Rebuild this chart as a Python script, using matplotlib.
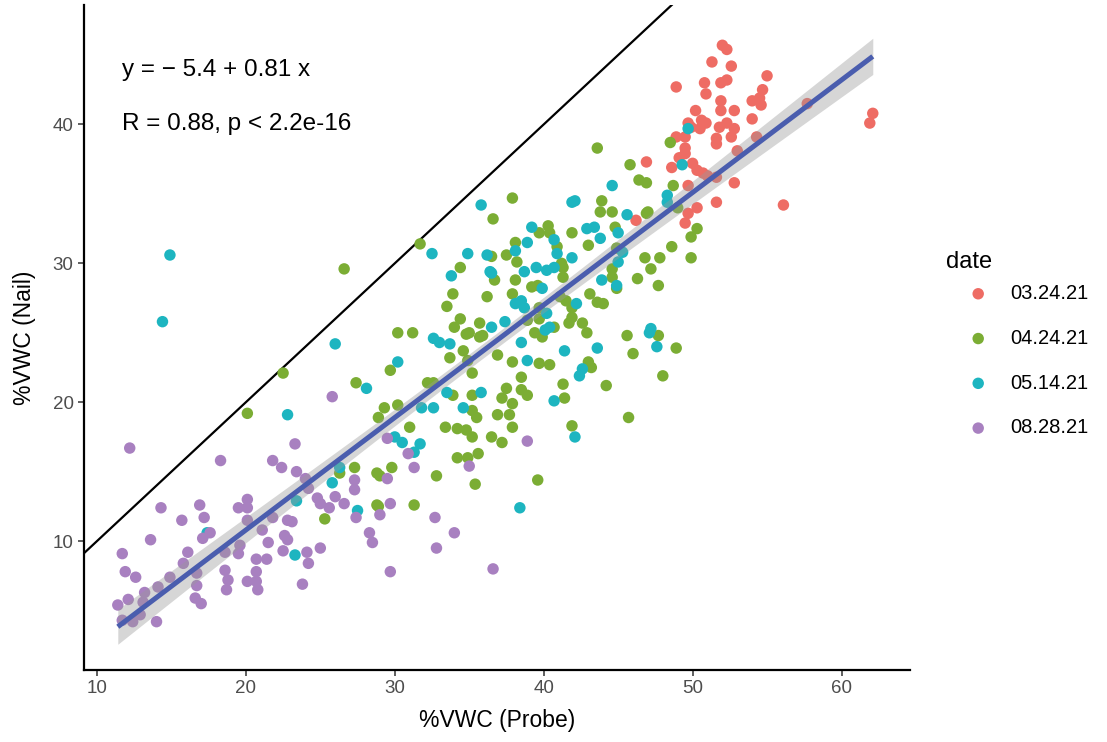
import numpy as np
import matplotlib
matplotlib.use("Agg")
import matplotlib.pyplot as plt

plt.rcParams['font.family'] = ['Liberation Sans', 'DejaVu Sans']

# ---- data: (probe %VWC, nail %VWC) per sampling date ----
dates = ["03.24.21", "04.24.21", "05.14.21", "08.28.21"]
colors = ["#EE6C64", "#7BAD34", "#1DB5C0", "#A880C0"]

probe_0324 = [52.0, 52.3, 51.3, 52.6, 55.0, 48.9, 50.8, 50.9, 51.9, 52.3, 54.7, 51.9, 51.9, 54.0,
              54.5, 54.6, 52.8, 50.2, 54.0, 49.7, 49.9, 50.6, 50.9, 50.5, 51.8, 52.3, 52.8, 52.6,
              51.6, 51.6, 54.3, 48.9, 49.5, 49.5, 49.5, 53.0, 49.1, 46.9, 48.6, 50.0, 50.3, 50.7,
              51.0, 51.6, 49.7, 52.8, 57.7, 62.1, 61.9, 51.6, 50.3, 49.7, 56.1, 46.2, 49.5]
nail_0324 = [45.7, 45.4, 44.5, 44.2, 43.5, 42.7, 43.0, 42.2, 43.0, 43.2, 42.5, 41.7, 41.0, 41.7,
             41.9, 41.4, 41.0, 41.0, 40.4, 40.1, 39.8, 40.3, 40.1, 39.7, 39.8, 40.1, 39.7, 39.1,
             39.0, 38.6, 39.1, 39.1, 39.1, 38.3, 37.9, 38.1, 37.6, 37.3, 36.9, 37.2, 36.7, 36.5,
             36.3, 36.2, 35.6, 35.8, 41.5, 40.8, 40.1, 34.4, 34.0, 33.6, 34.2, 33.1, 32.9]

probe_0424 = [26.6, 22.5, 20.1, 27.4, 37.9, 36.6, 31.7, 34.4, 36.5, 37.5, 38.1, 38.2, 36.7, 38.1,
              39.2, 33.9, 36.2, 33.5, 37.9, 34.4, 34.0, 30.2, 31.2, 35.0, 35.7, 40.3, 40.4, 39.7,
              40.9, 38.9, 39.7, 41.9, 41.3, 41.3, 39.6, 41.1, 41.5, 35.9, 39.7, 40.7, 41.7, 41.9,
              39.4, 39.9, 33.7, 34.6, 34.9, 35.2, 29.7, 32.2, 32.6, 33.9, 35.2, 29.3, 28.9, 30.2,
              31.0, 33.4, 34.2, 34.8, 35.2, 35.2, 35.5, 36.5, 37.2, 36.9, 37.7, 37.2, 37.9, 37.5,
              38.5, 38.9, 38.5, 37.9, 36.9, 37.9, 39.7, 40.4, 34.2, 34.9, 35.6, 29.8, 29.0, 32.8,
              35.4, 39.6, 27.3, 45.8, 46.4, 46.9, 43.9, 43.8, 44.6, 46.9, 48.7, 44.8, 43.0, 44.9,
              41.2, 46.8, 47.8, 48.6, 49.9, 49.9, 50.3, 47.2, 46.3, 47.7, 44.6, 44.6, 44.9, 43.1,
              43.6, 44.0, 41.9, 42.6, 42.9, 45.6, 47.7, 46.0, 48.9, 43.0, 43.2, 41.3, 44.2, 48.0,
              41.4, 45.7, 41.9, 48.5, 47.0, 49.0, 28.9, 31.3, 26.3, 25.3, 28.8, 28.8, 43.6, 34.8,
              35.7]
nail_0424 = [29.6, 22.1, 19.2, 21.4, 34.7, 33.2, 31.4, 29.7, 30.5, 30.6, 31.5, 30.1, 28.8, 28.8,
             28.3, 27.8, 27.6, 26.9, 27.8, 26.0, 25.4, 25.0, 25.0, 25.0, 25.7, 32.7, 32.2, 32.2,
             31.2, 25.9, 26.8, 32.2, 29.7, 29.0, 28.4, 27.6, 27.3, 24.8, 26.0, 25.4, 25.7, 26.8,
             25.0, 24.7, 23.2, 23.7, 23.0, 22.1, 22.3, 21.4, 21.4, 20.5, 20.5, 19.6, 18.9, 19.8,
             18.2, 18.2, 18.1, 18.0, 17.5, 19.4, 18.9, 17.5, 17.1, 19.1, 19.1, 20.3, 19.9, 21.0,
             20.9, 20.5, 21.8, 18.2, 23.4, 22.9, 22.8, 22.7, 16.0, 16.0, 16.3, 15.3, 14.7, 14.7,
             14.1, 14.4, 15.3, 37.1, 36.0, 35.8, 34.5, 33.7, 33.7, 33.6, 35.6, 32.6, 31.3, 31.1,
             30.0, 30.4, 30.4, 31.2, 30.4, 31.9, 32.5, 29.6, 28.9, 28.4, 29.6, 29.0, 28.2, 27.8,
             27.2, 27.1, 26.1, 25.7, 25.0, 24.8, 24.8, 23.5, 23.9, 22.9, 22.5, 21.3, 21.2, 21.9,
             20.3, 18.9, 18.3, 38.7, 33.7, 34.0, 12.5, 12.6, 14.9, 11.6, 14.9, 12.6, 38.3, 24.9,
             24.7]

probe_0514 = [14.9, 14.4, 26.0, 22.8, 23.3, 17.4, 23.4, 25.8, 26.3, 27.5, 38.4, 32.6, 33.0, 33.7,
              30.2, 28.1, 33.5, 35.8, 31.8, 32.6, 34.6, 30.0, 30.5, 31.7, 31.3, 38.5, 38.9, 40.7,
              35.8, 32.5, 34.9, 36.2, 33.8, 36.5, 39.2, 38.9, 38.1, 38.7, 39.5, 40.2, 40.7, 39.9,
              38.1, 38.5, 36.5, 37.4, 40.2, 40.4, 41.9, 40.7, 40.9, 41.9, 36.4, 38.7, 42.2, 44.6,
              42.1, 49.3, 48.3, 48.3, 45.6, 42.9, 43.4, 43.8, 45.0, 45.0, 45.3, 43.9, 44.9, 40.1,
              47.2, 41.4, 43.6, 42.6, 42.4, 47.6, 42.1, 47.1, 49.7]
nail_0514 = [30.6, 25.8, 24.2, 19.1, 9.0, 10.6, 12.9, 14.2, 15.3, 12.2, 12.4, 24.6, 24.3, 24.2,
             22.9, 21.0, 20.7, 20.7, 19.6, 19.6, 19.6, 17.5, 17.1, 17.0, 16.4, 24.3, 23.0, 20.1,
             34.2, 30.7, 30.7, 30.6, 29.1, 29.3, 32.6, 31.5, 30.9, 29.4, 29.7, 29.5, 29.7, 28.2,
             27.1, 27.3, 25.4, 25.8, 26.4, 25.4, 34.4, 31.7, 30.7, 30.4, 29.4, 26.8, 27.1, 35.6,
             34.5, 37.1, 34.9, 34.4, 33.5, 32.5, 32.6, 31.8, 32.2, 30.1, 30.8, 28.8, 28.4, 25.2,
             25.3, 23.7, 23.9, 22.4, 21.9, 24.0, 17.5, 25.0, 39.7]

probe_0828 = [12.2, 18.3, 23.3, 21.8, 22.4, 23.4, 24.0, 24.2, 14.3, 16.9, 17.2, 15.7, 19.5, 20.1,
              20.1, 17.6, 17.1, 13.6, 20.1, 21.8, 22.8, 23.1, 21.1, 22.6, 22.8, 21.5, 24.8, 25.0,
              25.6, 26.0, 26.6, 27.3, 27.3, 27.4, 11.7, 16.1, 15.8, 19.6, 19.5, 18.6, 20.7, 21.4,
              22.5, 24.1, 24.2, 25.0, 11.9, 12.6, 14.9, 14.1, 13.2, 13.1, 16.7, 16.7, 18.6, 18.8,
              18.7, 20.1, 20.7, 20.7, 20.8, 23.8, 16.6, 17.0, 12.4, 14.0, 11.7, 29.7, 29.0, 28.3,
              28.5, 32.7, 34.0, 32.8, 29.7, 36.6, 29.5, 30.9, 31.3, 35.0, 38.9, 29.5, 25.8, 12.1,
              12.9, 11.4]
nail_0828 = [16.7, 15.8, 17.0, 15.8, 15.3, 15.0, 14.5, 13.8, 12.4, 12.6, 11.7, 11.5, 12.4, 13.0,
             12.4, 10.6, 10.2, 10.1, 11.5, 11.7, 11.5, 11.4, 10.8, 10.4, 10.1, 9.9, 13.1, 12.7,
             12.4, 13.2, 12.7, 14.4, 13.7, 11.7, 9.1, 9.2, 8.4, 9.7, 9.1, 9.2, 8.7, 8.7,
             9.3, 9.2, 8.4, 9.5, 7.8, 7.4, 7.4, 6.7, 6.3, 5.6, 7.7, 6.8, 7.9, 7.2,
             6.5, 7.1, 7.8, 7.1, 6.5, 6.9, 5.9, 5.5, 4.2, 4.2, 4.3, 12.7, 11.9, 10.6,
             9.9, 11.7, 10.6, 9.5, 7.8, 8.0, 17.4, 16.3, 15.3, 15.4, 17.2, 14.5, 20.4, 5.8,
             4.7, 5.4]

# fitted model reported on the chart
intercept, slope = -5.4, 0.81
fit_label = "y = \u2212 5.4 + 0.81 x"
stat_label = "R = 0.88, p < 2.2e-16"

series = [(probe_0324, nail_0324), (probe_0424, nail_0424),
          (probe_0514, nail_0514), (probe_0828, nail_0828)]

fig = plt.figure(figsize=(11.07, 7.42), dpi=100)
ax = fig.add_axes([84 / 1107, 72 / 742, 826 / 1107, 665 / 742])

for (px, py), lab, col in zip(series, dates, colors):
    ax.scatter(px, py, s=68, color=col, edgecolors='none', label=lab, zorder=2)

# 1:1 reference line
ax.axline((0, 0), slope=1, color='black', lw=1.6, zorder=1)

# regression line with 95% confidence band
all_x = np.concatenate([np.asarray(s[0]) for s in series])
all_y = np.concatenate([np.asarray(s[1]) for s in series])
n = all_x.size
xbar = all_x.mean()
sxx = np.sum((all_x - xbar) ** 2)
resid = all_y - (intercept + slope * all_x)
s_res = np.sqrt(np.sum(resid ** 2) / (n - 2))
xs = np.linspace(all_x.min(), all_x.max(), 200)
ys = intercept + slope * xs
half = 1.966 * s_res * np.sqrt(1 / n + (xs - xbar) ** 2 / sxx)
ax.fill_between(xs, ys - half, ys + half, color='#999999', alpha=0.4, lw=0, zorder=3)
ax.plot(xs, ys, color='#4A5DAE', lw=3.6, zorder=4, solid_capstyle='butt')

ax.text(11.7, 43.9, fit_label, fontsize=17.5, ha='left', va='center')
ax.text(11.7, 40.0, stat_label, fontsize=17.5, ha='left', va='center')

ax.set_xlim(9.13, 64.6)
ax.set_ylim(0.72, 48.6)
ax.set_xticks([10, 20, 30, 40, 50, 60])
ax.set_yticks([10, 20, 30, 40])
ax.tick_params(colors='#333333', labelcolor='#4D4D4D', labelsize=13.5, length=4, width=1.1)
for side in ['top', 'right']:
    ax.spines[side].set_visible(False)
for side in ['left', 'bottom']:
    ax.spines[side].set_linewidth(1.6)
    ax.spines[side].set_color('black')

ax.set_xlabel("%VWC (Probe)", fontsize=16.5, labelpad=8)
ax.set_ylabel("%VWC (Nail)", fontsize=16.5, labelpad=12)

# legend: title placed separately so the key sits close beneath it
fig.text(946 / 1107, 1 - 262 / 742, "date", fontsize=17, ha='left', va='center')
leg = fig.legend(loc='upper left', bbox_to_anchor=(950 / 1107, 1 - 276 / 742),
                 frameon=False, fontsize=14.5, markerscale=1.0,
                 handletextpad=0.6, labelspacing=1.28, borderaxespad=0)

fig.savefig("out.png", dpi=100)
